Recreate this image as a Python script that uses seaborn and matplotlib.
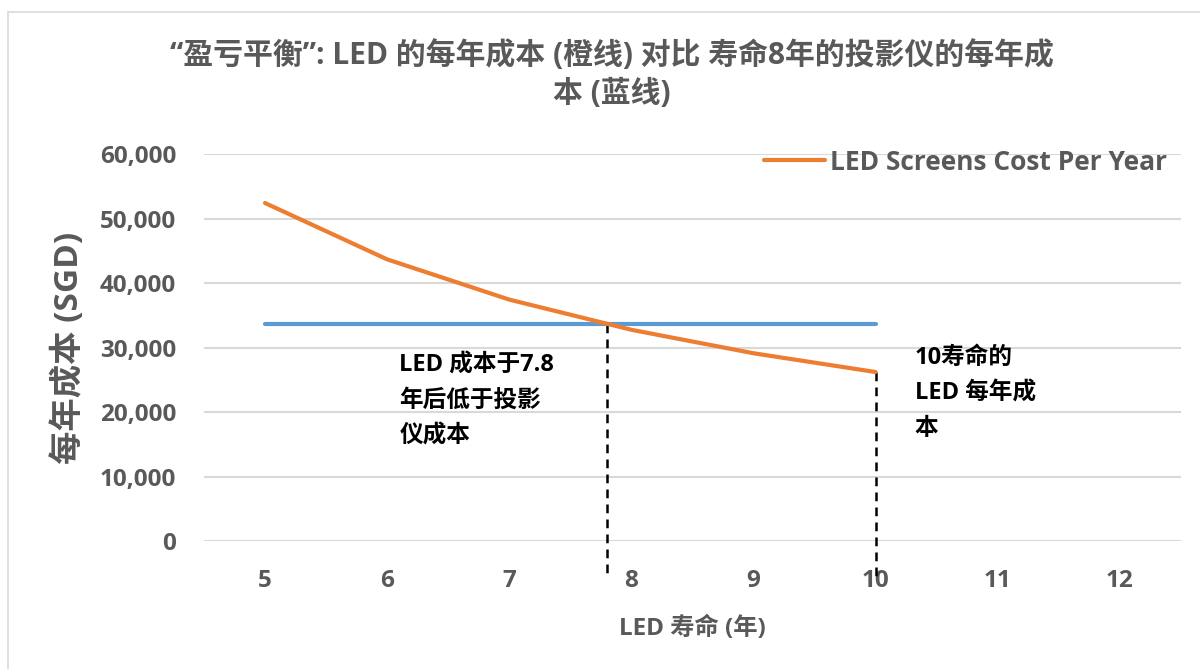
import numpy as np
import pandas as pd
import matplotlib
matplotlib.use("Agg")
import matplotlib.pyplot as plt
import seaborn as sns
from matplotlib.lines import Line2D

# data
lifespan = [5, 6, 7, 8, 9, 10]
led_cost = [52400, 43667, 37429, 32750, 29111, 26200]
projector_cost = [33600, 33600, 33600, 33600, 33600, 33600]
x_ticks = [5, 6, 7, 8, 9, 10, 11, 12]
y_ticks = [0, 10000, 20000, 30000, 40000, 50000, 60000]
break_even = 7.8

title_txt = "“盈亏平衡”: LED 的每年成本 (橙线) 对比 寿命8年的投影仪的每年成\n本 (蓝线)"
ylabel_txt = "每年成本 (SGD)"
xlabel_txt = "LED 寿命 (年)"
note1 = "LED 成本于7.8\n年后低于投影\n仪成本"
note2 = "10寿命的\nLED 每年成\n本"

sns.set_theme(style="white")
plt.rcParams['font.family'] = ['Open Sans', 'Noto Sans CJK SC', 'DejaVu Sans']
grey = "#595959"
orange = "#ED7D31"
blue = "#5B9BD5"

df = pd.DataFrame({"life": lifespan, "led": led_cost, "proj": projector_cost})

fig = plt.figure(figsize=(12, 6.69), dpi=100)
ax = fig.add_axes([0.17, 0.1913, 0.814, 0.5785])

sns.lineplot(data=df, x="life", y="proj", ax=ax, color=blue, linewidth=3,
             solid_capstyle="round", label="_nolegend_")
sns.lineplot(data=df, x="life", y="led", ax=ax, color=orange, linewidth=3,
             solid_capstyle="round", label="LED Screens Cost Per Year")

# dashed drop lines
led_at_10 = led_cost[lifespan.index(10)]
ax.plot([break_even, break_even], [projector_cost[0], -5500], ls=(0, (3.5, 2.5)),
        color="black", lw=1.8, clip_on=False, zorder=1)
ax.plot([10, 10], [led_at_10, -5500], ls=(0, (3.5, 2.5)),
        color="black", lw=1.8, clip_on=False, zorder=1)

ax.set_xlim(4.5, 12.5)
ax.set_ylim(0, 60000)
ax.set_xticks(x_ticks)
ax.set_yticks(y_ticks)
ax.set_yticklabels([f"{v:,}" for v in y_ticks])
ax.yaxis.grid(True, color="#d9d9d9", lw=1.5)
ax.set_axisbelow(True)
sns.despine(ax=ax, left=True, bottom=True)
ax.tick_params(axis="both", length=0, labelsize=17.5, labelcolor=grey)
ax.tick_params(axis="y", pad=20)
ax.tick_params(axis="x", pad=20)
for lab in ax.get_xticklabels() + ax.get_yticklabels():
    lab.set_fontweight("bold")

ax.set_xlabel(xlabel_txt, fontsize=17.5, fontweight="bold", color=grey, labelpad=17)
ax.set_ylabel(ylabel_txt, fontsize=24, fontweight="bold", color=grey, labelpad=10)

fig.text(0.51, 0.94, title_txt, ha="center", va="top", fontsize=21.5,
         fontweight="bold", color=grey, linespacing=1.33)

ax.text(6.1, 29100, note1, ha="left", va="top", fontsize=17, fontweight="bold",
        color="black", linespacing=1.65)
ax.text(10.32, 30300, note2, ha="left", va="top", fontsize=17, fontweight="bold",
        color="black", linespacing=1.65)

leg = ax.legend(loc="upper right", bbox_to_anchor=(1.01, 1.075), frameon=False,
                fontsize=19, handlelength=2.3, handletextpad=0.2)
for t in leg.get_texts():
    t.set_color(grey)
    t.set_fontweight("bold")

# chart border
fig.add_artist(Line2D([8 / 1200, 8 / 1200], [0, 1 - 12 / 669], color="#d9d9d9", lw=1.2))
fig.add_artist(Line2D([8 / 1200, 1], [1 - 12 / 669, 1 - 12 / 669], color="#d9d9d9", lw=1.2))

fig.savefig("out.png", dpi=100)
